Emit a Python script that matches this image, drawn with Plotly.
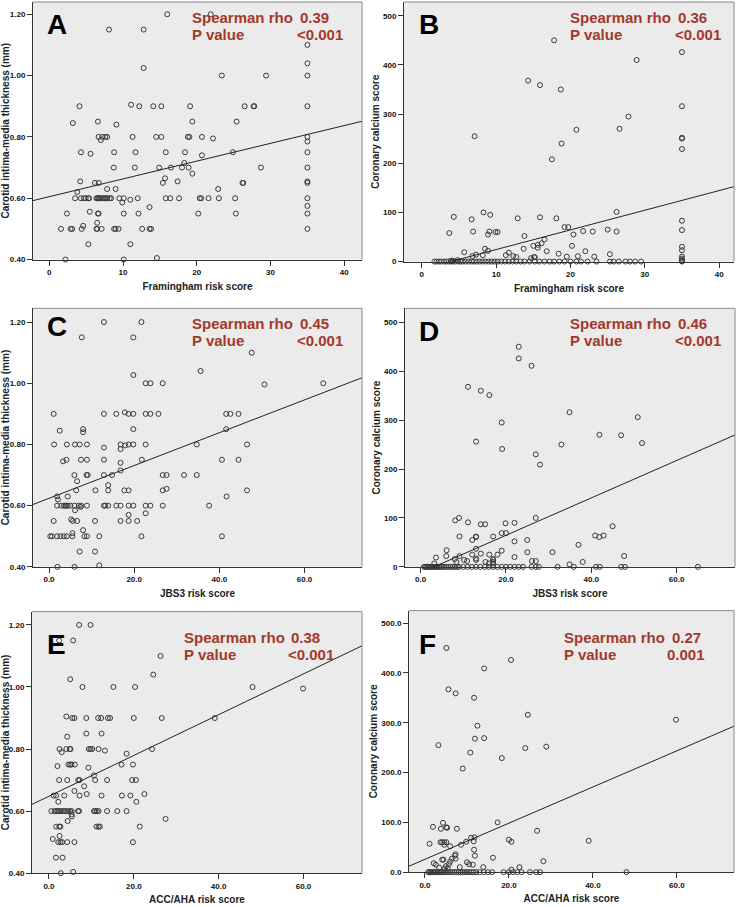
import plotly.graph_objects as go

# ---------------- data ----------------
# Panel A: Framingham risk score vs carotid IMT (mm)
fram_imt = [
    (2.2, 0.40), (10.1, 0.40), (14.6, 0.405),
    (1.6, 0.50), (2.9, 0.50), (3.1, 0.50), (4.4, 0.50), (6.4, 0.50), (6.5, 0.50), (7.1, 0.50),
    (8.8, 0.50), (9.0, 0.50), (9.4, 0.50), (12.6, 0.50), (13.6, 0.50), (13.8, 0.50), (35, 0.50),
    (2.4, 0.55), (5.5, 0.556), (6.6, 0.55), (6.7, 0.55), (10.1, 0.55), (12.1, 0.55), (20.2, 0.55),
    (25.3, 0.55), (35, 0.55), (35, 0.575),
    (5.3, 0.45), (11.0, 0.45), (4.6, 0.51), (6.5, 0.52), (9.9, 0.586), (11.0, 0.595), (13.6, 0.571),
    (3.5, 0.60), (4.3, 0.60), (4.7, 0.60), (4.95, 0.60), (5.3, 0.60), (5.4, 0.60), (6.4, 0.60),
    (6.55, 0.60), (6.7, 0.60), (6.8, 0.60), (7.0, 0.60), (7.3, 0.60), (7.5, 0.60), (7.7, 0.60),
    (7.85, 0.60), (8.2, 0.60), (8.4, 0.60), (9.5, 0.60), (10.1, 0.60), (12.0, 0.60), (15.8, 0.60),
    (16.4, 0.60), (17.6, 0.60), (20.4, 0.60), (20.6, 0.60), (21.6, 0.60), (23.0, 0.60), (25.2, 0.60),
    (35, 0.60),
    (3.8, 0.62), (7.85, 0.63), (9.0, 0.63), (22.9, 0.63), (4.2, 0.655), (6.2, 0.65), (6.7, 0.65),
    (15.4, 0.65), (17.4, 0.655), (15.7, 0.665), (26.2, 0.65), (26.3, 0.65), (35, 0.65), (35, 0.655),
    (8.75, 0.70), (14.9, 0.70), (16.5, 0.70), (18.0, 0.70), (18.9, 0.70), (19.4, 0.68), (11.6, 0.70),
    (28.7, 0.70), (35, 0.70), (18.3, 0.715),
    (4.3, 0.75), (5.6, 0.745), (8.8, 0.75), (11.7, 0.75), (15.8, 0.75), (18.4, 0.75), (20.7, 0.74),
    (24.9, 0.75), (35, 0.75),
    (7.0, 0.79), (6.7, 0.80), (7.2, 0.80), (7.6, 0.80), (7.85, 0.80), (11.3, 0.80), (14.5, 0.80),
    (15.2, 0.80), (18.8, 0.80), (19.0, 0.80), (20.7, 0.80), (22.2, 0.795), (35, 0.80), (35, 0.785),
    (9.1, 0.84), (3.2, 0.845), (6.6, 0.85), (19.4, 0.85), (25.4, 0.85),
    (4.1, 0.90), (11.1, 0.905), (12.2, 0.90), (14.1, 0.90), (15.2, 0.90), (19.1, 0.90), (26.5, 0.90),
    (27.7, 0.90), (27.8, 0.90), (35, 0.90),
    (23.4, 1.00), (29.4, 1.00), (35, 1.00), (12.8, 1.025), (35, 1.04), (35, 1.10),
    (8.1, 1.15), (12.8, 1.15), (16.0, 1.20), (21.9, 1.20),
]

# Panel B: Framingham risk score vs coronary calcium score
fram_cac = [
    (17.8, 450), (35, 426), (28.9, 410), (14.3, 368), (15.9, 359), (18.7, 350), (35, 316), (27.8, 295),
    (26.6, 270), (20.8, 268), (7.1, 255), (35, 252), (35, 250), (18.8, 240), (35, 229), (17.5, 208),
    (8.3, 100), (26.2, 101), (4.3, 91), (6.7, 86), (9.2, 95), (12.9, 88), (15.9, 90), (18.1, 88),
    (35, 83), (19.2, 70), (19.7, 70),
    (3.7, 58), (6.9, 61), (9.1, 61), (9.9, 60), (10.2, 60), (8.9, 55), (20.4, 55), (21.7, 62),
    (23.0, 61), (25.0, 65), (26.2, 61), (35, 64),
    (13.8, 52), (16.5, 45), (16.1, 37), (15.6, 34), (15.6, 28), (15.0, 32), (20.2, 32), (35, 30), (35, 23),
    (8.5, 26), (8.9, 22), (13.7, 26), (16.8, 21), (22.0, 21), (5.7, 19), (11.7, 18), (8.2, 13), (7.3, 14),
    (6.8, 11), (11.3, 13), (12.3, 11), (12.7, 9), (18.4, 16), (19.5, 10), (21.0, 11), (23.2, 10),
    (25.3, 15), (15.1, 9), (15.2, 9), (14.7, 7), (35, 10), (35, 6), (35, 3), (35, 1),
    (4.1, 2), (4.8, 3), (3.9, 1),
    (1.7, 0), (2.0, 0), (2.3, 0), (2.6, 0), (3.0, 0), (3.3, 0), (3.6, 0), (3.9, 0), (4.2, 0), (4.5, 0),
    (4.9, 0), (5.2, 0), (5.5, 0), (5.9, 0), (6.3, 0), (6.7, 0), (7.0, 0), (7.4, 0), (7.8, 0), (8.2, 0),
    (8.6, 0), (9.0, 0), (9.4, 0), (9.8, 0), (10.2, 0), (10.7, 0), (11.2, 0), (11.7, 0), (12.2, 0),
    (12.7, 0), (13.3, 0), (13.8, 0), (14.5, 0), (15.2, 0), (15.8, 0), (16.5, 0), (17.2, 0), (17.8, 0),
    (18.5, 0), (19.2, 0), (20.0, 0), (20.8, 0), (21.4, 0), (22.3, 0), (23.5, 0), (25.3, 0), (25.8, 0),
    (26.5, 0), (27.4, 0), (28.0, 0), (28.7, 0), (29.5, 0), (35, 0),
]

# Panel C: JBS3 risk score vs carotid IMT (mm)
jbs3_imt = [
    (12.9, 1.20), (21.7, 1.20), (7.7, 1.15), (19.8, 1.15), (47.6, 1.10), (35.6, 1.04), (19.8, 1.027),
    (22.7, 1.00), (23.8, 1.00), (26.7, 1.00), (50.6, 0.996), (64.4, 1.00),
    (1.1, 0.90), (12.9, 0.90), (15.8, 0.90), (18.7, 0.90), (19.8, 0.90), (22.7, 0.90), (23.8, 0.90),
    (25.7, 0.90), (41.6, 0.90), (42.6, 0.90), (44.5, 0.90), (17.8, 0.905),
    (2.5, 0.845), (8.0, 0.85), (8.0, 0.84), (19.8, 0.85), (41.6, 0.85),
    (1.2, 0.80), (4.2, 0.80), (6.1, 0.80), (7.2, 0.80), (8.9, 0.80), (16.8, 0.80), (18.7, 0.80),
    (19.8, 0.80), (22.7, 0.80), (34.7, 0.80), (46.5, 0.80), (17.9, 0.797),
    (12.9, 0.79), (16.8, 0.785), (3.3, 0.745),
    (4.1, 0.75), (7.5, 0.75), (8.9, 0.75), (12.9, 0.75), (21.8, 0.75), (40.6, 0.75), (44.5, 0.75),
    (16.8, 0.74), (16.8, 0.715),
    (5.96, 0.70), (8.8, 0.70), (9.1, 0.70), (12.9, 0.70), (14.8, 0.70), (26.7, 0.70), (27.6, 0.70),
    (31.7, 0.70), (34.7, 0.70),
    (6.6, 0.68), (13.9, 0.667),
    (13.9, 0.65), (6.4, 0.65), (10.9, 0.65), (17.7, 0.65), (18.7, 0.65), (26.7, 0.65), (46.5, 0.65),
    (27.6, 0.655),
    (41.7, 0.63), (1.9, 0.63), (2.1, 0.62), (4.4, 0.63),
    (1.9, 0.60), (2.9, 0.60), (3.5, 0.60), (3.8, 0.60), (4.1, 0.60), (4.4, 0.60), (5.0, 0.60),
    (6.0, 0.60), (7.0, 0.60), (7.6, 0.60), (8.9, 0.60), (12.9, 0.60), (13.2, 0.60), (13.9, 0.60),
    (15.8, 0.60), (16.8, 0.60), (18.7, 0.60), (19.8, 0.60), (22.7, 0.60), (23.8, 0.60), (26.7, 0.60),
    (37.6, 0.60),
    (7.4, 0.596), (6.1, 0.585), (22.7, 0.575), (18.7, 0.57), (5.2, 0.555),
    (5.6, 0.55), (1.1, 0.55), (6.6, 0.55), (10.8, 0.55), (16.8, 0.55), (18.7, 0.55), (20.7, 0.55),
    (8.0, 0.52), (5.5, 0.51),
    (0.3, 0.50), (0.7, 0.50), (1.9, 0.50), (2.7, 0.50), (3.5, 0.50), (4.2, 0.50), (5.5, 0.50),
    (8.3, 0.50), (8.9, 0.50), (11.8, 0.50), (21.7, 0.50), (40.6, 0.50),
    (7.2, 0.45), (10.8, 0.45), (2.0, 0.40), (6.0, 0.40), (11.8, 0.405),
]

# Panel D: JBS3 risk score vs coronary calcium score
jbs3_cac = [
    (23.0, 450), (23.0, 426), (26.0, 411), (11.1, 368), (14.1, 360), (16.1, 351), (34.9, 316),
    (50.9, 306), (19.0, 295), (33.0, 250), (41.9, 270), (47.0, 269), (51.9, 253), (13.0, 256),
    (19.1, 241), (27.0, 230), (28.0, 209),
    (9.0, 100), (8.1, 95), (27.0, 100), (11.1, 91), (14.1, 87), (15.1, 87), (19.9, 89), (22.0, 90),
    (45.0, 83), (40.9, 64), (41.9, 61), (42.9, 64), (19.0, 69), (20.0, 69), (9.1, 62), (13.0, 61),
    (13.0, 62), (12.1, 55), (25.0, 55), (17.0, 62), (22.0, 52), (37.0, 45), (13.0, 37), (6.1, 34),
    (19.0, 33), (30.9, 30), (25.0, 30), (14.1, 27), (16.1, 25), (18.0, 25), (12.1, 25), (6.0, 22),
    (9.1, 22), (22.0, 20), (47.7, 22), (3.6, 19), (13.0, 17), (13.0, 14), (17.0, 16), (17.0, 14),
    (17.0, 10), (17.0, 7), (15.2, 10), (10.2, 14), (10.9, 12), (26.1, 12), (27.0, 12), (38.0, 10),
    (8.0, 16), (8.4, 10), (34.9, 5), (3.2, 7), (16.0, 7),
    (0.8, 0), (1.0, 0), (1.3, 0), (1.6, 0), (1.9, 0), (2.2, 0), (2.5, 0), (2.8, 0), (3.1, 0), (3.4, 0),
    (3.7, 0), (4.0, 0), (4.3, 0), (4.7, 0), (5.0, 0), (5.5, 0), (6.0, 0), (6.5, 0), (7.0, 0), (7.5, 0),
    (8.0, 0), (8.5, 0), (9.0, 0), (10.0, 0), (11.0, 0), (12.0, 0), (13.0, 0), (14.0, 0), (15.0, 0),
    (16.0, 0), (17.0, 0), (18.0, 0), (19.0, 0), (20.0, 0), (21.0, 0), (22.0, 0), (23.0, 0), (24.0, 0),
    (26.0, 0), (27.0, 0), (27.7, 0), (32.1, 0), (35.9, 0), (41.1, 0), (42.0, 0), (47.0, 0), (47.9, 0),
    (65.0, 0),
]

# Panel E: ACC/AHA risk score vs carotid IMT (mm)
accaha_imt = [
    (7.1, 1.20), (9.8, 1.20), (2.4, 1.15), (5.7, 1.15), (26.3, 1.10), (24.6, 1.04), (5.0, 1.025),
    (7.9, 1.00), (15.2, 1.00), (20.3, 1.00), (48.0, 1.00), (59.9, 0.995), (4.1, 0.905),
    (5.5, 0.90), (6.0, 0.90), (8.8, 0.90), (11.6, 0.90), (12.3, 0.90), (13.9, 0.90), (14.4, 0.90),
    (20.0, 0.90), (26.6, 0.90), (39.1, 0.90),
    (8.8, 0.85), (12.4, 0.85), (4.3, 0.84),
    (2.5, 0.80), (4.1, 0.80), (4.9, 0.80), (5.1, 0.80), (9.4, 0.80), (9.8, 0.80), (10.2, 0.80),
    (11.7, 0.80), (24.3, 0.80), (13.2, 0.795), (3.0, 0.79), (18.3, 0.785),
    (4.6, 0.75), (5.0, 0.75), (5.3, 0.75), (6.1, 0.75), (17.1, 0.75), (19.8, 0.75), (2.0, 0.745),
    (9.3, 0.74), (10.6, 0.715),
    (2.4, 0.70), (4.3, 0.70), (6.9, 0.70), (7.2, 0.70), (10.9, 0.70), (13.7, 0.70), (19.6, 0.70),
    (20.5, 0.70),
    (8.3, 0.68), (6.0, 0.665),
    (1.1, 0.65), (1.7, 0.65), (3.6, 0.65), (7.2, 0.65), (12.4, 0.65), (17.2, 0.65), (19.2, 0.65),
    (8.9, 0.655), (22.5, 0.655), (2.2, 0.63), (20.6, 0.63),
    (0.55, 0.60), (1.3, 0.60), (1.7, 0.60), (2.0, 0.60), (2.4, 0.60), (2.8, 0.60), (3.3, 0.60),
    (3.7, 0.60), (4.1, 0.60), (4.6, 0.60), (5.0, 0.60), (5.35, 0.60), (6.85, 0.60), (7.1, 0.60),
    (10.6, 0.60), (10.9, 0.60), (11.3, 0.60), (11.7, 0.60), (13.7, 0.60), (16.1, 0.60), (18.3, 0.60),
    (5.35, 0.59), (5.4, 0.583), (4.4, 0.568),
    (1.7, 0.55), (2.4, 0.55), (2.7, 0.55), (11.2, 0.55), (11.7, 0.55), (12.0, 0.55), (21.4, 0.55),
    (27.5, 0.575), (2.5, 0.52), (0.9, 0.51),
    (2.2, 0.50), (2.7, 0.50), (3.1, 0.50), (4.3, 0.50), (6.0, 0.50), (19.8, 0.50),
    (1.65, 0.45), (3.2, 0.45), (2.8, 0.40), (5.7, 0.404),
]

# Panel F: ACC/AHA risk score vs coronary calcium score
accaha_cac = [
    (5.1, 450), (20.5, 426), (14.1, 409), (5.6, 367), (7.3, 359), (11.7, 350), (24.5, 316), (59.8, 306),
    (12.5, 294), (11.9, 268), (14.1, 269), (3.2, 255), (23.9, 249), (28.9, 252), (10.8, 240),
    (18.3, 229), (9.0, 208),
    (17.3, 100), (4.3, 99), (1.9, 91), (5.1, 90), (5.3, 89), (3.8, 87), (7.6, 87), (26.7, 83),
    (11.0, 69), (11.8, 70), (11.6, 62), (20.0, 65), (20.6, 61), (39.0, 63), (1.1, 57), (3.7, 60),
    (4.1, 60), (4.6, 60), (5.1, 60), (4.6, 55), (6.0, 52), (8.6, 55), (9.8, 61), (11.7, 45), (7.3, 36),
    (7.1, 33), (11.9, 33), (6.4, 27), (7.3, 27), (4.4, 25), (4.1, 25), (2.1, 18), (2.6, 15), (3.4, 9),
    (5.7, 16), (6.0, 21), (10.0, 20), (10.5, 16), (11.4, 15), (13.9, 10), (16.2, 29), (28.2, 22),
    (22.5, 10), (5.0, 12), (5.4, 8), (4.7, 7), (8.3, 10), (20.6, 5),
    (0.8, 0), (1.0, 0), (1.3, 0), (1.6, 0), (2.0, 0), (2.3, 0), (2.6, 0), (3.0, 0), (3.3, 0), (3.7, 0),
    (4.0, 0), (4.5, 0), (5.0, 0), (5.5, 0), (6.0, 0), (6.5, 0), (7.0, 0), (7.5, 0), (8.0, 0), (8.5, 0),
    (9.0, 0), (9.5, 0), (10.0, 0), (10.5, 0), (11.0, 0), (11.6, 0), (12.2, 0), (13.0, 0), (14.0, 0),
    (15.0, 0), (16.0, 0), (18.7, 0), (20.0, 0), (21.0, 0), (22.0, 0), (23.0, 0), (25.0, 0), (26.5, 0),
    (27.4, 0), (48.0, 0),
]

panel_letters = ["A", "B", "C", "D", "E", "F"]
rho_values = ["0.39", "0.36", "0.45", "0.46", "0.38", "0.27"]
p_values = ["<0.001", "<0.001", "<0.001", "<0.001", "<0.001", "0.001"]
x_titles = ["Framingham risk score", "Framingham risk score", "JBS3 risk score",
            "JBS3 risk score", "ACC/AHA risk score", "ACC/AHA risk score"]
imt_title = "Carotid intima-media thickness (mm)"
cac_title = "Coronary calcium score"
y_titles = [imt_title, cac_title, imt_title, cac_title, imt_title, cac_title]

# linear fit lines (intercept, slope) as drawn in the reference
fit_intercepts = [0.605, -15.6, 0.624, -11.9, 0.648, 25.8]
fit_slopes = [0.0058, 4.0, 0.00536, 3.82, 0.00657, 3.63]

# tick values / labels
fram_ticks = [0, 10, 20, 30, 40]
fram_ticklabels = ["0", "10", "20", "30", "40"]
score_ticks = [0, 20, 40, 60]
score_ticklabels = ["0.0", "20.0", "40.0", "60.0"]
imt_ticks = [0.40, 0.60, 0.80, 1.00, 1.20]
imt_ticklabels = ["0.40", "0.60", "0.80", "1.00", "1.20"]
cac_ticks = [0, 100, 200, 300, 400, 500]
cac_ticklabels = ["0", "100", "200", "300", "400", "500"]
cac_ticklabels_dec = ["0.0", "100.0", "200.0", "300.0", "400.0", "500.0"]

# ---------------- layout geometry (pixels) ----------------
W, H = 738, 907
panels = [
    # (data, plot-area px box l, r, t, b, xrange, yrange, xticks, xticktext, yticks, yticktext)
    (fram_imt, (33, 362, 2, 261), (-2.2, 42.4), (0.40, 1.24), fram_ticks, fram_ticklabels, imt_ticks, imt_ticklabels),
    (fram_cac, (404, 734, 2, 263), (-2.4, 42.0), (0, 528), fram_ticks, fram_ticklabels, cac_ticks, cac_ticklabels),
    (jbs3_imt, (33, 362, 310, 570), (-3.76, 73.5), (0.40, 1.245), score_ticks, score_ticklabels, imt_ticks, imt_ticklabels),
    (jbs3_cac, (405, 735, 310, 570), (-3.67, 73.7), (0, 528.5), score_ticks, score_ticklabels, cac_ticks, cac_ticklabels),
    (accaha_imt, (32, 362, 615, 878), (-4.0, 73.8), (0.40, 1.243), score_ticks, score_ticklabels, imt_ticks, imt_ticklabels),
    (accaha_cac, (409, 734, 614, 877), (-3.8, 73.6), (0, 525), score_ticks, score_ticklabels, cac_ticks, cac_ticklabels_dec),
]

# text positions (pixels): letter (x, y), stats label left x, value left x, p right x, row1 y, row2 y
text_pos = [
    ((45, 25), 190, 298, 345, 17.5, 35),
    ((417, 25), 568, 676, 723, 17.5, 35),
    ((45, 328), 190, 298, 345, 325, 342.5),
    ((417, 333), 568, 676, 723, 325, 342.5),
    ((45, 648), 182, 289, 336, 641, 658.5),
    ((417, 648), 562, 670, 707, 641, 658),
]

FONT = "Liberation Sans, Arial, sans-serif"
RED = "#A3392A"

fig = go.Figure()
layout = dict(
    width=W, height=H, margin=dict(l=0, r=0, t=0, b=0),
    paper_bgcolor="white", plot_bgcolor="#EBEBEB",
    showlegend=False, shapes=[], annotations=[],
)


def px(xp):
    return xp / W


def py(yp):
    return 1 - yp / H


for i, (pts, box, xr, yr, xt, xtt, yt, ytt) in enumerate(panels):
    n = i + 1
    xa = "x" if n == 1 else f"x{n}"
    ya = "y" if n == 1 else f"y{n}"
    l, r, t, b = box
    xs = [p[0] for p in pts]
    ys = [p[1] for p in pts]
    fig.add_trace(go.Scatter(
        x=xs, y=ys, mode="markers", xaxis=xa, yaxis=ya,
        marker=dict(symbol="circle-open", size=5, color="#3a3a3a", line=dict(width=1, color="#3a3a3a")),
        cliponaxis=False,
    ))
    lx = [xr[0], xr[1]]
    ly = [fit_intercepts[i] + fit_slopes[i] * v for v in lx]
    fig.add_trace(go.Scatter(
        x=lx, y=ly, mode="lines", xaxis=xa, yaxis=ya,
        line=dict(color="#222222", width=1),
    ))
    common = dict(
        showgrid=False, zeroline=False, showline=True, linecolor="#333333", linewidth=1,
        ticks="outside", ticklen=5, tickcolor="#333333", tickwidth=1,
        tickfont=dict(family=FONT, size=8, color="#111111", weight="bold"),
        fixedrange=True,
    )
    layout["xaxis" if n == 1 else f"xaxis{n}"] = dict(
        common, domain=[px(l), px(r)], range=list(xr), anchor=ya,
        tickvals=xt, ticktext=xtt,
        title=dict(text=x_titles[i], font=dict(family=FONT, size=10, color="#222222", weight="bold"), standoff=6),
    )
    layout["yaxis" if n == 1 else f"yaxis{n}"] = dict(
        common, domain=[py(b), py(t)], range=list(yr), anchor=xa,
        tickvals=yt, ticktext=ytt,
        title=dict(text=y_titles[i], font=dict(family=FONT, size=10, color="#222222", weight="bold"), standoff=1),
    )
    # top and right frame edges (lighter)
    for (x0, y0, x1, y1) in [(0, 1, 1, 1), (1, 0, 1, 1)]:
        layout["shapes"].append(dict(
            type="line", xref=f"{xa} domain", yref=f"{ya} domain",
            x0=x0, y0=y0, x1=x1, y1=y1, line=dict(color="#8a8a8a", width=1),
        ))
    (lx0, ly0), sx, vx, prx, r1, r2 = text_pos[i]
    layout["annotations"].append(dict(
        text=panel_letters[i], xref="paper", yref="paper", x=px(lx0), y=py(ly0),
        xanchor="left", yanchor="middle", showarrow=False,
        font=dict(family=FONT, size=28, color="black", weight="bold"),
    ))
    sfont = dict(family=FONT, size=15, color=RED, weight="bold")
    for txt, xx, yy, anc in [("Spearman rho", sx, r1, "left"), (rho_values[i], vx, r1, "left"),
                             ("P value", sx, r2, "left"), (p_values[i], prx, r2, "right")]:
        layout["annotations"].append(dict(
            text=txt, xref="paper", yref="paper", x=px(xx), y=py(yy),
            xanchor=anc, yanchor="middle", showarrow=False, font=sfont,
        ))

fig.update_layout(**layout)
fig.write_html(
    "out.html",
    config={"displayModeBar": False, "staticPlot": True},
    post_script="document.body.style.margin='0';document.body.style.overflow='hidden';",
)
